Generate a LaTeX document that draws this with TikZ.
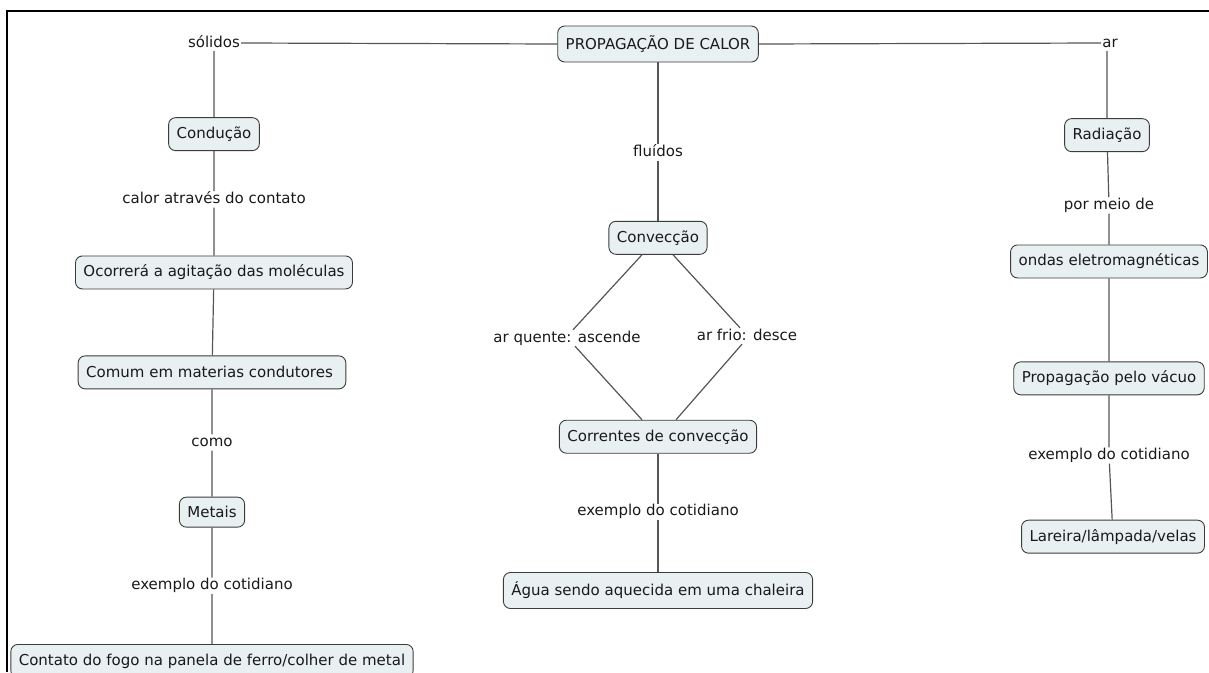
\documentclass[tikz,border=0pt]{standalone}
\usepackage{fontspec}
\setmainfont{DejaVu Sans}
\usetikzlibrary{positioning}
\definecolor{mapfill}{RGB}{232,240,242}
\definecolor{mapline}{RGB}{85,85,85}
\definecolor{mapedge}{RGB}{60,60,60}

\begin{document}
\begin{tikzpicture}[
    font=\fontsize{15}{18}\selectfont,
    box/.style={draw=mapedge,rounded corners=7pt,fill=mapfill,align=center,
                inner xsep=8pt,minimum height=33pt,text=black!90,line width=0.9pt},
    lbl/.style={inner sep=1pt,text height=11pt,text depth=3pt,text=black!90},
    ln/.style={mapline,line width=1.2pt}
  ]
  \useasboundingbox (0,0) rectangle (1209pt,-672pt);
  \draw[line width=1.2pt] (7pt,-672pt) -- (7pt,-11pt) -- (1209pt,-11pt);

  % root
  \node[box,minimum height=36pt] (root) at (658pt,-44pt) {PROPAGAÇÃO DE CALOR};

  % conducao
  \node[lbl] (solidos) at (214pt,-43pt) {sólidos};
  \node[box,below=66pt of solidos] (conducao) {Condução};
  \node[lbl,below=40pt of conducao] (contato) {calor através do contato};
  \node[box,below=48pt of contato] (agitacao) {Ocorrerá a agitação das moléculas};
  \node[box,below=66pt of agitacao,xshift=-2pt] (condutores) {Comum em materias condutores\hspace{5pt}};
  \node[lbl,below=45pt of condutores] (como) {como};
  \node[box,below=46pt of como,minimum height=30pt] (metais) {Metais};
  \node[lbl,below=50pt of metais] (exconducao) {exemplo do cotidiano};
  \node[box,below=50pt of exconducao] (panela) {Contato do fogo na panela de ferro/colher de metal};
  \draw[ln] (root.west) -- (solidos.east);
  \draw[ln] (solidos) -- (conducao) -- (contato) -- (agitacao) -- (condutores)
    -- (como) -- (metais) -- (exconducao) -- (panela);

  % conveccao
  \node[lbl,below=82pt of root] (fluidos) {fluídos};
  \node[box,below=60pt of fluidos] (conveccao) {Convecção};
  \node[box,below=165pt of conveccao] (correntes) {Correntes de convecção};
  \node[lbl] (quente) at (567pt,-338pt) {ar quente: ascende};
  \node[lbl] (frio) at (747pt,-336pt) {ar frio: desce};
  \node[lbl,below=50pt of correntes] (exconveccao) {exemplo do cotidiano};
  \node[box,below=52pt of exconveccao,minimum height=36pt] (chaleira) {Água sendo aquecida em uma chaleira};
  \draw[ln] (root) -- (fluidos) -- (conveccao);
  \draw[ln] ([xshift=-16pt]conveccao.south) -- ([xshift=6pt]quente.north);
  \draw[ln] ([xshift=8pt]quente.south) -- ([xshift=-16pt]correntes.north);
  \draw[ln] ([xshift=15pt]conveccao.south) -- ([xshift=-7pt]frio.north);
  \draw[ln] ([xshift=-5pt]frio.south) -- ([xshift=18pt]correntes.north);
  \draw[ln] (correntes) -- (exconveccao) -- (chaleira);

  % radiacao
  \node[lbl] (ar) at (1110pt,-43pt) {ar};
  \node[box,below=67pt of ar,xshift=-3pt] (radiacao) {Radiação};
  \node[lbl,below=45pt of radiacao,xshift=2pt] (meio) {por meio de};
  \node[box,below=31pt of meio] (ondas) {ondas eletromagnéticas};
  \node[box,below=83pt of ondas] (vacuo) {Propagação pelo vácuo};
  \node[lbl,below=52pt of vacuo] (exradiacao) {exemplo do cotidiano};
  \node[box,below=56pt of exradiacao,xshift=4pt] (lareira) {Lareira/lâmpada/velas};
  \draw[ln] (root.east) -- (ar.west);
  \draw[ln] ([xshift=-3pt]ar.south) -- (radiacao) -- (meio) -- (ondas) -- (vacuo)
    -- (exradiacao) -- (lareira);
\end{tikzpicture}
\end{document}
